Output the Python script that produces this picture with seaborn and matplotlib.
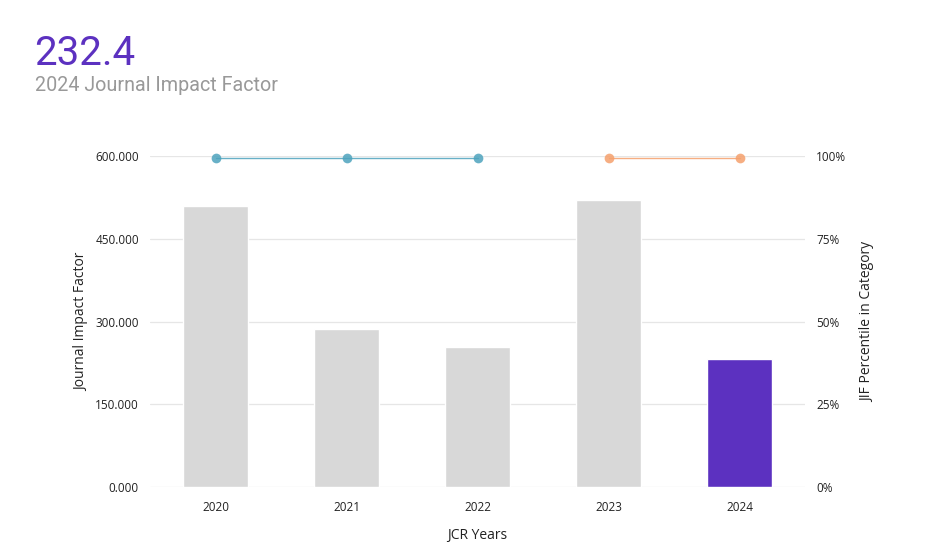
import pandas as pd
import seaborn as sns
import matplotlib.pyplot as plt

# Data
years = ['2020', '2021', '2022', '2023', '2024']
jif = [508.7, 286.1, 254.7, 520.5, 232.4]
percentile = [99.4, 99.4, 99.4, 99.4, 99.4]
pct_group = ['A', 'A', 'A', 'B', 'B']

bar_colors = ['#d8d8d8', '#d8d8d8', '#d8d8d8', '#d8d8d8', '#5c31c0']
line_colors = {'A': '#4da3bd', 'B': '#f5a06c'}

df = pd.DataFrame({'Year': years, 'JIF': jif, 'Pct': percentile, 'Group': pct_group})

sns.set_theme(style='white')
plt.rcParams['font.family'] = ['Open Sans', 'DejaVu Sans']

fig = plt.figure(figsize=(9.46, 5.49), dpi=100)
ax = fig.add_axes([0.1586, 0.1129, 0.6924, 0.6029])

sns.barplot(data=df, x='Year', y='JIF', hue='Year', palette=bar_colors,
            width=0.5, legend=False, ax=ax, saturation=1)
ax.set_xlim(-0.5, 4.5)
ax.set_ylim(0, 600)
ax.set_yticks([0, 150, 300, 450, 600])
ax.set_yticklabels([f'{v:.3f}' for v in [0, 150, 300, 450, 600]])
ax.grid(axis='y', color='#e6e6e6', linewidth=0.9)
ax.set_axisbelow(True)
for s in ax.spines.values():
    s.set_visible(False)
ax.tick_params(axis='both', length=0, labelsize=8.5, colors='#222222')
ax.tick_params(axis='x', pad=10)
ax.tick_params(axis='y', pad=8)
ax.set_xlabel('JCR Years', fontsize=10, color='#222222', labelpad=10)
ax.set_ylabel('Journal Impact Factor', fontsize=10, color='#222222', labelpad=4.5)

ax2 = ax.twinx()
sns.lineplot(data=df, x='Year', y='Pct', hue='Group', palette=line_colors,
             marker='o', markersize=7, markeredgewidth=0, linewidth=1.0,
             legend=False, ax=ax2, clip_on=False)
for ln in ax2.lines:
    ln.set_alpha(0.85)
ax2.set_ylim(0, 100)
ax2.set_yticks([0, 25, 50, 75, 100])
ax2.set_yticklabels(['0%', '25%', '50%', '75%', '100%'])
for s in ax2.spines.values():
    s.set_visible(False)
ax2.tick_params(axis='y', length=0, labelsize=8.5, colors='#222222', pad=8)
ax2.set_ylabel('JIF Percentile in Category', fontsize=10, color='#222222', labelpad=10)
ax2.grid(False)

fig.text(0.036, 0.882, '232.4', fontsize=29, color='#5c31c0', family='Roboto')
fig.text(0.037, 0.835, '2024 Journal Impact Factor', fontsize=14.2, color='#999999', family='Roboto')

fig.savefig('out.png', dpi=100)
